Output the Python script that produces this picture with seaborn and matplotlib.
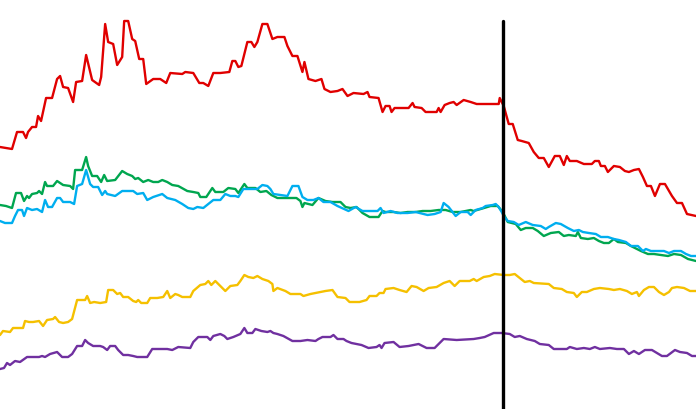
import seaborn as sns
import matplotlib.pyplot as plt
import pandas as pd

# Pontos: (posicao x, altura em pixels a partir do topo)
red_pts = [(0,148),(12,150),(17,133),(23,133),(26,139),(28,133),(32,128),(36,128),(38,117),(41,122),
           (46,99),(52,99),(57,80),(60,77),(63,88),(68,89),(73,103),(76,83),(82,82),(86,56),(92,81),
           (99,86),(101,78),(105,25),(108,43),(113,45),(117,66),(122,58),(124,22),(128,22),(132,40),
           (135,42),(139,60),(143,60),(146,85),(153,80),(160,80),(166,84),(170,74),(182,75),(185,73),
           (193,74),(199,84),(203,84),(208,87),(213,74),(220,74),(229,73),(232,62),(235,62),(238,68),
           (241,67),(247,43),(251,43),(254,48),(257,43),(262,25),(267,25),(272,40),(277,38),(284,38),
           (287,47),(292,57),(297,57),(302,73),(304,63),(308,80),(315,82),(321,80),(324,90),(330,93),
           (337,92),(342,90),(347,97),(353,94),(363,95),(367,93),(369,98),(378,99),(382,113),(385,107),
           (389,107),(391,113),(394,109),(408,109),(412,104),(414,108),(421,109),(425,113),(431,113),
           (436,113),(438,109),(440,113),(444,106),(449,104),(453,103),(456,106),(463,101),(470,103),
           (476,105),(498,105),(499,99),(503,107),(508,125),(512,125),(517,141),(521,142),(528,144),
           (533,153),(538,159),(543,159),(548,168),(554,157),(559,157),(563,166),(566,157),(569,162),
           (576,162),(583,165),(591,165),(594,162),(598,162),(600,167),(604,167),(607,173),(613,167),
           (619,168),(624,172),(628,173),(633,171),(638,170),(642,178),(646,187),(650,187),(654,197),
           (659,185),(664,185),(671,197),(676,204),(681,204),(686,215),(695,217)]

green_pts = [(0,206),(6,207),(12,209),(16,194),(21,194),(24,202),(27,197),(29,199),(32,195),(37,194),
             (39,192),(42,195),(45,183),(47,187),(53,187),(57,182),(63,186),(70,187),(73,190),(75,171),
             (82,171),(86,158),(88,167),(92,177),(97,177),(101,183),(104,176),(107,182),(115,181),
             (122,172),(127,175),(132,177),(135,180),(138,179),(143,183),(148,181),(153,183),(158,183),
             (162,181),(167,183),(172,186),(178,187),(187,192),(193,193),(198,194),(200,198),(206,198),
             (212,189),(215,193),(223,193),(228,189),(235,190),(238,194),(244,185),(247,189),(255,189),
             (260,193),(266,192),(271,196),(277,199),(288,199),(296,199),(300,202),(302,208),(304,204),
             (312,206),(318,199),(325,202),(332,203),(340,203),(345,208),(350,209),(356,208),(362,214),
             (369,218),(378,218),(382,212),(385,213),(393,213),(400,214),(407,213),(415,213),(422,212),
             (430,212),(438,211),(445,211),(452,213),(460,213),(470,211),(473,212),(480,210),(490,207),
             (497,207),(502,213),(507,223),(515,225),(520,231),(525,229),(532,229),(537,232),(543,237),
             (550,234),(558,233),(563,237),(568,236),(575,237),(577,233),(580,239),(587,240),(593,239),
             (598,242),(603,244),(608,244),(613,240),(617,243),(625,244),(630,247),(640,252),(647,255),
             (653,255),(660,256),(667,257),(673,255),(680,256),(687,260),(695,262)]

cyan_pts = [(0,222),(5,224),(12,224),(15,217),(18,211),(22,211),(24,217),(27,209),(32,211),(37,210),
            (42,213),(45,201),(48,208),(52,208),(57,199),(60,199),(63,203),(70,203),(74,205),(77,187),
            (82,185),(86,171),(90,185),(93,188),(98,188),(102,196),(105,192),(107,195),(115,197),
            (122,192),(133,192),(137,195),(143,194),(147,201),(153,198),(162,195),(167,199),(175,201),
            (182,205),(188,209),(193,210),(197,208),(203,209),(208,205),(213,201),(220,201),(225,195),
            (230,197),(235,197),(238,198),(243,190),(250,190),(257,190),(262,186),(267,187),(270,190),
            (273,195),(280,196),(287,197),(292,187),(298,187),(302,198),(307,201),(313,201),(318,199),
            (323,203),(330,203),(337,207),(348,212),(355,208),(362,212),(370,212),(377,212),(380,209),
            (383,214),(390,212),(397,214),(407,214),(415,213),(427,216),(434,215),(440,213),(443,204),
            (448,208),(455,217),(460,213),(467,213),(470,216),(475,211),(482,209),(485,207),(492,206),
            (495,205),(498,208),(501,213),(503,217),(507,222),(513,223),(518,226),(525,223),(532,226),
            (540,227),(545,230),(548,228),(555,224),(560,225),(567,229),(573,232),(578,231),(582,233),
            (588,234),(595,235),(600,238),(607,238),(613,240),(618,241),(625,243),(630,247),(637,247),
            (642,252),(645,250),(650,252),(657,252),(663,252),(668,254),(673,252),(680,252),(685,255),
            (690,257),(695,257)]

yellow_pts = [(0,336),(3,332),(10,333),(13,329),(23,329),(25,322),(29,323),(33,323),(39,322),(43,327),
              (47,321),(53,320),(55,318),(59,323),(63,324),(68,323),(72,320),(77,301),(85,301),(87,297),
              (90,304),(94,303),(100,304),(106,303),(108,291),(113,291),(117,295),(120,294),(123,298),
              (128,298),(133,302),(136,303),(138,301),(141,304),(147,304),(150,299),(157,299),(163,298),
              (167,292),(170,299),(175,295),(178,296),(182,298),(190,298),(193,292),(200,286),(205,285),
              (208,282),(211,286),(215,282),(220,287),(225,292),(230,287),(237,286),(240,282),(244,276),
              (248,278),(253,279),(257,277),(262,280),(268,282),(272,285),(273,292),(277,289),(285,292),
              (290,295),(300,295),(303,297),(310,295),(320,293),(325,292),(332,291),(337,298),(345,299),
              (349,303),(359,303),(366,301),(369,297),(376,297),(379,294),(383,294),(385,290),(393,289),
              (399,291),(406,293),(411,287),(416,288),(423,292),(428,289),(436,288),(443,284),(449,282),
              (454,287),(459,282),(469,282),(473,280),(476,282),(483,278),(489,277),(494,275),(503,276),
              (509,276),(514,275),(519,279),(524,283),(529,282),(533,284),(548,285),(553,289),(561,290),
              (566,293),(573,294),(576,298),(581,293),(586,293),(593,290),(599,289),(608,290),(613,291),
              (619,290),(626,292),(631,295),(636,293),(638,297),(643,291),(648,288),(653,288),(658,293),
              (663,296),(668,293),(671,289),(676,288),(683,289),(689,292),(695,292)]

purple_pts = [(0,370),(4,369),(7,364),(10,366),(15,362),(20,363),(27,358),(33,358),(39,358),(42,357),
              (45,358),(50,355),(57,353),(62,358),(68,358),(72,355),(77,347),(82,347),(85,341),(88,344),
              (93,347),(100,347),(103,348),(107,351),(110,347),(115,347),(118,351),(123,356),(128,356),
              (133,357),(137,358),(147,358),(152,350),(158,350),(167,350),(172,351),(178,348),(190,349),
              (193,343),(198,338),(207,338),(210,341),(213,337),(220,335),(224,337),(227,340),(233,338),
              (240,335),(244,329),(247,334),(252,334),(255,330),(261,332),(267,333),(270,332),(273,334),
              (277,335),(283,337),(292,342),(300,342),(307,341),(315,342),(318,340),(322,338),(330,338),
              (333,336),(337,340),(343,340),(346,342),(351,344),(361,346),(368,349),(376,348),(379,346),
              (381,349),(384,344),(393,343),(399,348),(408,347),(418,345),(426,349),(434,349),(443,340),
              (456,341),(473,340),(479,339),(484,338),(493,334),(501,334),(509,335),(514,338),(519,337),
              (526,340),(534,342),(539,345),(548,346),(553,350),(559,350),(566,350),(569,348),(576,350),
              (583,349),(589,350),(594,348),(599,350),(609,349),(616,350),(623,350),(628,355),(633,352),
              (638,355),(644,351),(651,351),(656,354),(661,357),(666,357),(674,351),(679,353),(686,354),
              (691,357),(695,357)]

series_names = ['red', 'green', 'cyan', 'yellow', 'purple']
series_colors = ['#E00000', '#00A64F', '#00AEEF', '#F5C000', '#7030A0']
split_x = 502
split_top = 22

# Monta um df longo com todas as series
frames = []
for name, pts in zip(series_names, [red_pts, green_pts, cyan_pts, yellow_pts, purple_pts]):
  df = pd.DataFrame(pts, columns=['x', 'y'])
  df['serie'] = name
  frames.append(df)
df_lines = pd.concat(frames, ignore_index=True)

sns.set_style('white')
fig = plt.figure(figsize=(6.96, 4.10), dpi=100)
ax = fig.add_axes([0, 0, 1, 1])
sns.lineplot(data=df_lines, x='x', y='y', hue='serie', hue_order=series_names,
             palette=dict(zip(series_names, series_colors)), estimator=None, sort=False,
             linewidth=1.7, legend=False, ax=ax)

ax.set_xlim(0, 695)
ax.set_ylim(410, 0)
# Linha vertical preta de separacao
ax.axvline(split_x, ymin=0, ymax=(410 - split_top) / 410, color='black', linewidth=2.4)
ax.axis('off')

fig.savefig('out.png', dpi=100, facecolor='white')
